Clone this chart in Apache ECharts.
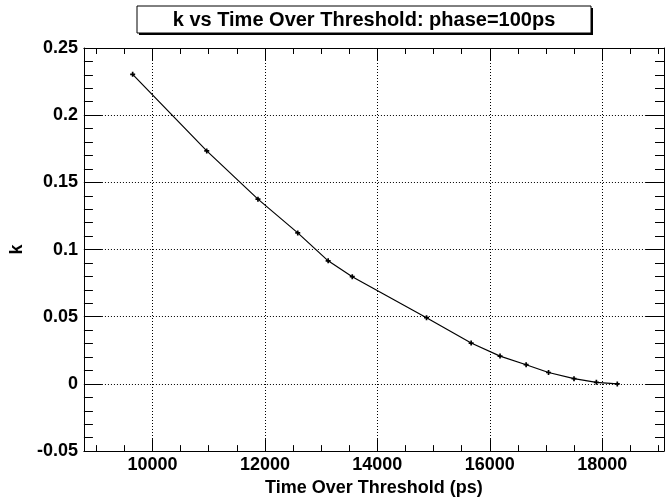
<!DOCTYPE html>
<html>
<head>
<meta charset="utf-8">
<script src="https://cdn.jsdelivr.net/npm/echarts@6/dist/echarts.min.js"></script>
<style>
html,body{margin:0;padding:0;background:#fff;}
#chart{width:665px;height:502px;}
</style>
</head>
<body>
<div id="chart"></div>
<script>
// ---- data ----
const titleText = 'k vs Time Over Threshold: phase=100ps';
const xTitle = 'Time Over Threshold (ps)';
const yTitle = 'k';
const tot = [9647, 10965, 11876, 12584, 13125, 13554, 14875, 15669, 16183, 16647, 17046, 17499, 17897, 18269];
const kVals = [0.2304, 0.1734, 0.1375, 0.1124, 0.0916, 0.0798, 0.0493, 0.0304, 0.0207, 0.0143, 0.0085, 0.0039, 0.0012, 0.0000];
const xMajorTicks = [10000, 12000, 14000, 16000, 18000];
const xMinorTicks = [9000, 9500, 10500, 11000, 11500, 12500, 13000, 13500, 14500, 15000, 15500, 16500, 17000, 17500, 18500, 19000];
const xRange = [8780, 19100];
const yRange = [-0.05, 0.25];
const yStep = 0.05;

const FONT = '"Liberation Sans", Arial, Helvetica, sans-serif';
const points = tot.map((x, i) => [x, kVals[i]]);

function xAxisDef(pos, ticks, len, labels, split, line) {
  return {
    type: 'value', position: pos, min: xRange[0], max: xRange[1], gridIndex: 0,
    axisLine: { show: line, onZero: false, lineStyle: { color: '#000', width: 1 } },
    axisTick: { show: true, inside: true, length: len, customValues: ticks, lineStyle: { color: '#000', width: 1 } },
    axisLabel: labels ? { show: true, customValues: ticks, formatter: v => String(v), color: '#000', fontFamily: FONT, fontWeight: 'bold', fontSize: 18, margin: 5 } : { show: false },
    splitLine: { show: split, lineStyle: { color: '#000', width: 1, type: [1, 2] } },
    minorTick: { show: false }, minorSplitLine: { show: false }
  };
}
function yAxisDef(pos, labels, split) {
  return {
    type: 'value', position: pos, min: yRange[0], max: yRange[1], interval: yStep, gridIndex: 0,
    axisLine: { show: true, onZero: false, lineStyle: { color: '#000', width: 1 } },
    axisTick: { show: true, inside: true, length: 18, lineStyle: { color: '#000', width: 1 } },
    minorTick: { show: true, splitNumber: 5, length: 9, lineStyle: { color: '#000', width: 1 } },
    axisLabel: labels ? { show: true, formatter: v => String(+v.toFixed(4)), color: '#000', fontFamily: FONT, fontWeight: 'bold', fontSize: 18, margin: 6 } : { show: false },
    splitLine: { show: split, lineStyle: { color: '#000', width: 1, type: [1, 2] } },
    minorSplitLine: { show: false }
  };
}

const xAxes = [
  Object.assign(xAxisDef('bottom', xMajorTicks, 12, true, true, true), {
    name: xTitle, nameLocation: 'middle', nameGap: 24,
    nameTextStyle: { color: '#000', fontFamily: FONT, fontWeight: 'bold', fontSize: 18 }
  }),
  xAxisDef('bottom', xMinorTicks, 6, false, false, false),
  xAxisDef('top', xMajorTicks, 12, false, false, true),
  xAxisDef('top', xMinorTicks, 6, false, false, false)
];
const yAxes = [
  Object.assign(yAxisDef('left', true, true), {
    name: yTitle, nameLocation: 'middle', nameGap: 46, nameRotate: 90,
    nameTextStyle: { color: '#000', fontFamily: FONT, fontWeight: 'bold', fontSize: 18 }
  }),
  yAxisDef('right', false, false)
];

const chart = echarts.init(document.getElementById('chart'), null, { renderer: 'canvas' });
chart.setOption({
  backgroundColor: '#fff',
  animation: false,
  grid: { left: 61, right: 1, top: 48, bottom: 44, containLabel: false },
  xAxis: xAxes,
  yAxis: yAxes,
  graphic: [
    { type: 'rect', shape: { x: 139, y: 8, width: 454, height: 27 }, style: { fill: '#000' }, z: 100 },
    { type: 'rect', shape: { x: 137, y: 6, width: 454, height: 27 }, style: { fill: '#fff', stroke: '#000', lineWidth: 1 }, z: 101 },
    { type: 'text', x: 364, y: 20, style: { text: titleText, fill: '#000', font: 'bold 20px ' + FONT, align: 'center', verticalAlign: 'middle' }, z: 102 }
  ],
  series: [{
    type: 'line',
    xAxisIndex: 0, yAxisIndex: 0,
    data: points,
    symbol: 'path://M-1,-3h2v2h2v2h-2v2h-2v-2h-2v-2h2z',
    symbolSize: 5,
    showSymbol: true,
    itemStyle: { color: '#000' },
    lineStyle: { color: '#000', width: 1.2 },
    z: 10
  }]
});
</script>
</body>
</html>
